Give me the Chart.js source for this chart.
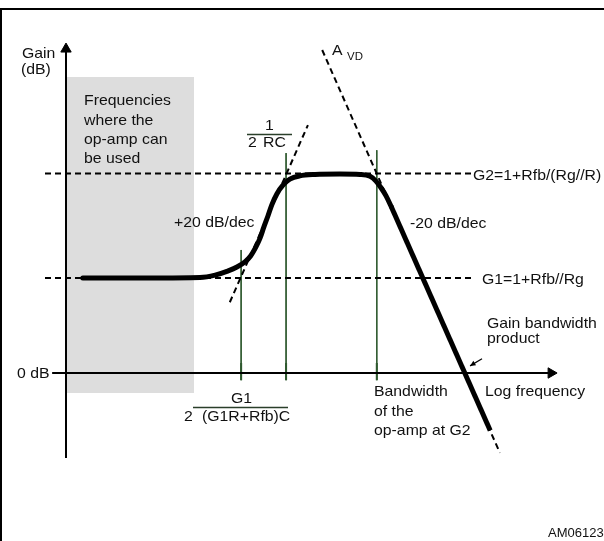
<!DOCTYPE html>
<html><head><meta charset="utf-8">
<script src="https://cdn.jsdelivr.net/npm/chart.js@4/dist/chart.umd.min.js"></script>
<style>html,body{margin:0;padding:0;background:#fff;}#wrap{position:relative;width:604px;height:541px;}</style>
</head><body><div id="wrap"><canvas id="c" width="604" height="541"></canvas></div>
<script>
// x = log frequency (decades from the gain axis), y = gain (dB)
const G1_DB = 20;
const G2_DB = 42;
const levelLabels = ['G1=1+Rfb//Rg', 'G2=1+Rfb/(Rg//R)'];
const levelSpan = [-0.5, 9.72];

// closed-loop gain curve (thick)
const curveFreq = [0.40, 2.00, 3.19, 3.55, 3.83, 4.07, 4.26, 4.40, 4.52, 4.62, 4.71, 4.81, 4.90, 5.02, 5.17, 5.33, 5.57, 5.93, 6.52, 7.00, 7.24, 7.38, 7.50, 7.62, 7.74];
const curveGain = [20.0, 20.0, 20.1, 20.6, 21.4, 22.3, 23.4, 24.7, 26.5, 28.4, 30.7, 33.1, 35.4, 37.7, 39.6, 40.8, 41.5, 41.8, 41.9, 41.8, 41.4, 40.4, 39.0, 37.3, 35.1];
// -20 dB/dec roll-off following A_VD
const rolloffFreq = [7.74, 10.10];
const rolloffGain = [35.1, -12.1];
// open-loop gain A_VD asymptote
const avdFreq = [6.10, 10.33];
const avdGain = [68.0, -16.8];
// +20 dB/dec asymptote
const zeroFreq = [3.90, 5.76];
const zeroGain = [14.9, 52.2];
// corner frequency markers
const markerFreq = [4.17, 5.24, 7.40];
const markerTop = [25.9, 46.3, 46.9];
const markerBottom = -1.5;
const markerTickTop = 2.1;
// usable band (grey)
const usableBand = [0.02, 3.05];
const usableGain = [62.3, -4.2];
// axes
const axisFreq = [-0.33, 11.55];
const axisGain = [-17.9, 68.2];

const pts = (xs, ys) => xs.map((x, i) => ({x, y: ys[i]}));
function segs(xs, tops, bottom) {
  const out = [];
  xs.forEach((x, i) => { out.push({x, y: tops[i]}, {x, y: bottom}, {x, y: null}); });
  return out;
}
const green = '#2f5a2f';

const datasets = [
  {data: pts(curveFreq, curveGain), borderColor: '#000', borderWidth: 5, cubicInterpolationMode: 'monotone', borderCapStyle: 'round', borderJoinStyle: 'round', pointRadius: 0, order: 0},
  {data: pts(rolloffFreq, rolloffGain), borderColor: '#000', borderWidth: 5, borderCapStyle: 'butt', pointRadius: 0, order: 0},
  {data: [{x: axisFreq[1], y: 0}, {x: 0, y: axisGain[1]}], showLine: false, pointStyle: 'triangle', rotation: [90, 0], pointRadius: 6, backgroundColor: '#000', borderColor: '#000', pointBorderWidth: 1, order: 1},
  {data: [{x: 0, y: axisGain[0]}, {x: 0, y: axisGain[1]}, {x: 0, y: null}, {x: axisFreq[0], y: 0}, {x: axisFreq[1], y: 0}], borderColor: '#000', borderWidth: 2, pointRadius: 0, spanGaps: false, order: 1},
  {data: pts(avdFreq, avdGain), borderColor: '#000', borderWidth: 2, borderDash: [6, 4], pointRadius: 0, order: 2},
  {data: pts(zeroFreq, zeroGain), borderColor: '#000', borderWidth: 2, borderDash: [6, 4], pointRadius: 0, order: 2},
  {data: [{x: levelSpan[0], y: G1_DB}, {x: levelSpan[1], y: G1_DB}], borderColor: '#000', borderWidth: 2, borderDash: [6, 4], pointRadius: 0, order: 2},
  {data: [{x: levelSpan[0], y: G2_DB}, {x: levelSpan[1] - 0.07, y: G2_DB}], borderColor: '#000', borderWidth: 2, borderDash: [6, 4], pointRadius: 0, order: 2},
  {data: segs(markerFreq, markerTop, markerBottom), borderColor: green, borderWidth: 1, pointRadius: 0, spanGaps: false, order: 3},
  {data: segs(markerFreq, markerFreq.map(() => markerTickTop), markerBottom), borderColor: green, borderWidth: 2, pointRadius: 0, spanGaps: false, order: 3},
  {data: [{x: usableBand[0], y: usableGain[0]}, {x: usableBand[1], y: usableGain[0]}], borderWidth: 0, borderColor: 'rgba(0,0,0,0)', backgroundColor: '#dddddd', fill: {value: usableGain[1]}, pointRadius: 0, order: 10}
];

function txt(ctx, s, x, y, size, sx, align) {
  ctx.save();
  ctx.translate(x, y);
  ctx.scale(sx, 1);
  ctx.font = size + 'px "Liberation Sans", Arial, sans-serif';
  ctx.textAlign = align || 'left';
  ctx.textBaseline = 'alphabetic';
  ctx.fillStyle = '#111';
  ctx.fillText(s, 0, 0);
  ctx.restore();
}

const deco = {
  id: 'deco',
  beforeDraw(chart) {
    const ctx = chart.ctx;
    ctx.save();
    ctx.fillStyle = '#000';
    ctx.fillRect(0, 8, 604, 2);
    ctx.fillRect(0, 8, 2, 533);
    ctx.restore();
  },
  afterDraw(chart) {
    const ctx = chart.ctx;
    const xs = chart.scales.x, ys = chart.scales.y;
    const S = 14.5, K = 1.09;
    txt(ctx, 'Gain', 22, 58, S, K);
    txt(ctx, '(dB)', 21, 74, S, K);
    txt(ctx, 'Frequencies', 84, 105, S, K);
    txt(ctx, 'where the', 84, 124.5, S, K);
    txt(ctx, 'op-amp can', 84, 144, S, K);
    txt(ctx, 'be used', 84, 163, S, K);
    txt(ctx, '1', 269.5, 130, S, K, 'center');
    txt(ctx, '2', 248, 147, S, K);
    txt(ctx, 'RC', 263, 147, S, K);
    txt(ctx, 'A', 332, 55, S, K);
    txt(ctx, 'VD', 347, 59.5, 10.5, K);
    txt(ctx, levelLabels[1], 473, 179.5, S, K);
    txt(ctx, levelLabels[0], 482, 284, S, K);
    txt(ctx, '+20 dB/dec', 174, 227, S, K);
    txt(ctx, '-20 dB/dec', 410, 228, S, K);
    txt(ctx, 'Gain bandwidth', 487, 328, S, K);
    txt(ctx, 'product', 487, 342.5, S, K);
    txt(ctx, '0 dB', 17, 378, S, K);
    txt(ctx, 'Log frequency', 485, 396, S, K);
    txt(ctx, 'Bandwidth', 374, 396, S, K);
    txt(ctx, 'of the', 374, 415.5, S, K);
    txt(ctx, 'op-amp at G2', 374, 435, S, K);
    txt(ctx, 'G1', 231, 403, S, K);
    txt(ctx, '2', 184, 421, S, K);
    txt(ctx, '(G1R+Rfb)C', 202, 421, S, K);
    txt(ctx, 'AM06123', 548, 537, 13, 1);
    ctx.save();
    ctx.strokeStyle = '#2a3f2a';
    ctx.lineWidth = 1.5;
    ctx.beginPath();
    ctx.moveTo(247, 134.5); ctx.lineTo(292, 134.5);
    ctx.moveTo(193, 407.5); ctx.lineTo(288, 407.5);
    ctx.stroke();
    // small arrow to gain-bandwidth crossing
    const hx = xs.getPixelForValue(9.62), hy = ys.getPixelForValue(1.5);
    const tx = xs.getPixelForValue(9.905), ty = ys.getPixelForValue(3.0);
    ctx.strokeStyle = '#000';
    ctx.lineWidth = 1.2;
    ctx.beginPath(); ctx.moveTo(tx, ty); ctx.lineTo(hx, hy); ctx.stroke();
    const a = Math.atan2(hy - ty, hx - tx);
    ctx.fillStyle = '#000';
    ctx.beginPath();
    ctx.moveTo(hx, hy);
    ctx.lineTo(hx - 6 * Math.cos(a - 0.45), hy - 6 * Math.sin(a - 0.45));
    ctx.lineTo(hx - 6 * Math.cos(a + 0.45), hy - 6 * Math.sin(a + 0.45));
    ctx.closePath(); ctx.fill();
    ctx.restore();
  }
};

new Chart(document.getElementById('c'), {
  type: 'line',
  data: {datasets},
  options: {
    responsive: false,
    animation: false,
    events: [],
    layout: {padding: 0, autoPadding: false},
    plugins: {legend: {display: false}, tooltip: {enabled: false}},
    scales: {
      x: {type: 'linear', display: false, min: -66 / 42, max: 538 / 42},
      y: {type: 'linear', display: false, min: -168 / 4.75, max: 373 / 4.75}
    }
  },
  plugins: [deco]
});
</script></body></html>
